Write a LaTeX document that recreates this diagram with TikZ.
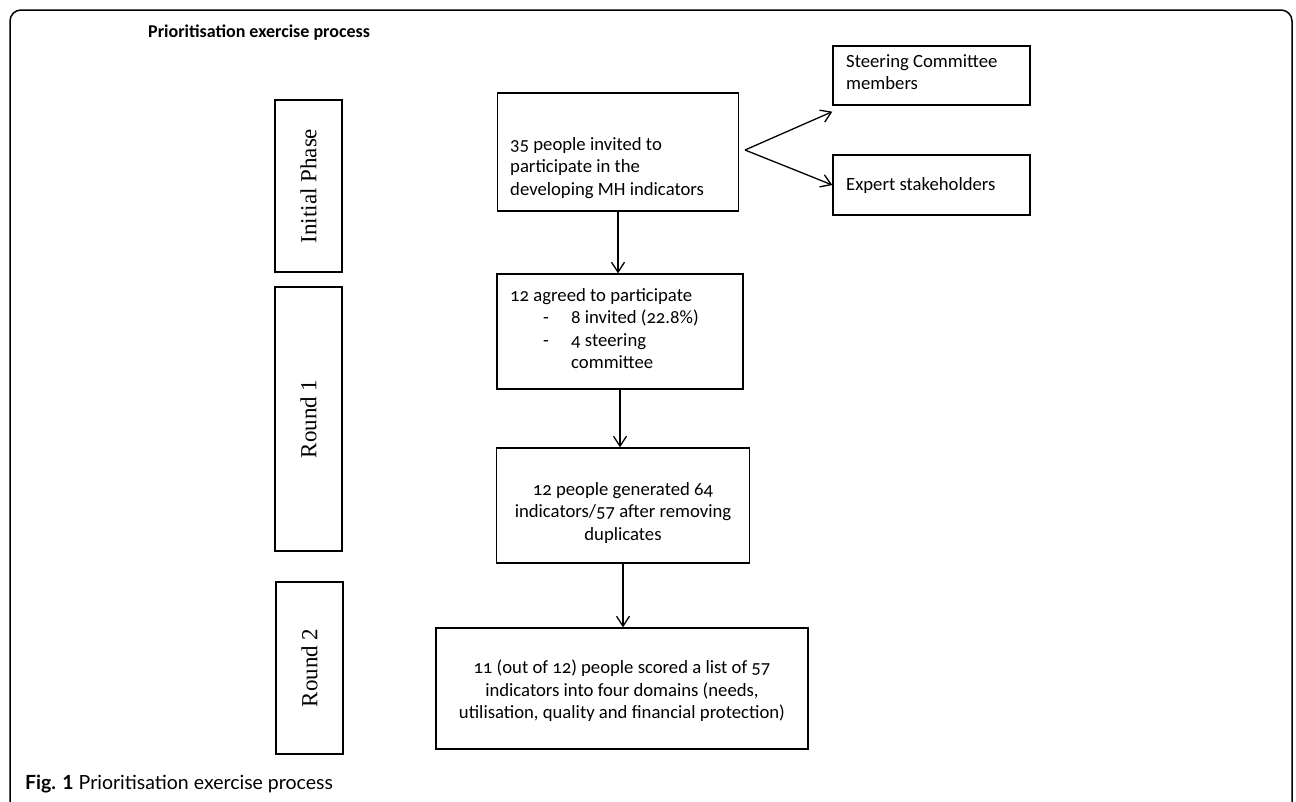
\documentclass[tikz,border=0pt]{standalone}
\usepackage{fontspec}
\setmainfont{Liberation Serif}
\newfontfamily\boxfont{Carlito}[Numbers=OldStyle]
\newfontfamily\capfont{Lato}
\usetikzlibrary{arrows.meta,calc}

\tikzset{
  stagebox/.style={draw, line width=1.3pt, rotate=90, minimum height=67pt, inner sep=0pt,
    font=\fontsize{23}{27}\selectfont},
  flowbox/.style={draw, line width=1.3pt, inner sep=0pt},
  flowtext/.style={font=\boxfont\fontsize{18.7}{22.5}\selectfont, inner sep=0pt},
  flowarrow/.style={line width=1.3pt, -{Straight Barb[length=10pt,width=13pt,line width=1.3pt]}},
}

\begin{document}
\begin{tikzpicture}[x=1pt,y=-1pt]
\clip (0,0) rectangle (1296,801);
% outer frame, open at the bottom
\draw[line width=1.5pt, rounded corners=11pt] (10,10) rectangle (1292,815);
\node[font=\boxfont\bfseries\fontsize{18}{22}\selectfont, anchor=base west, inner sep=0pt] (title) at (148,37) {Prioritisation exercise process};

% stage column
\node[stagebox, minimum width=172pt] (init) at (308.5,186) {Initial Phase};
\node[stagebox, minimum width=264pt] (round1) at (308.5,419) {Round 1};
\node[stagebox, minimum width=172pt] (round2) at (309.5,668) {Round 2};

% flow boxes
\node[flowbox, minimum width=241pt, minimum height=118pt] (invite) at (618,152) {};
\node[flowtext, anchor=north west, align=left] (invite-t) at (510,137) {35 people invited to\\participate in the\\developing MH indicators};

\node[flowbox, minimum width=246pt, minimum height=115pt] (agreed) at (620,331.5) {};
\node[flowtext, anchor=north west, align=left] (agreed-t) at (510,288) {12 agreed to participate\\
\hspace*{33pt}\makebox[28pt][l]{-}8 invited (22.8\%)\\
\hspace*{33pt}\makebox[28pt][l]{-}4 steering\\
\hspace*{61pt}committee};

\node[flowbox, minimum width=253pt, minimum height=115pt] (generated) at (623,505.5) {};
\node[flowtext, align=center] (generated-t) at (623,513) {12 people generated 64\\indicators/57 after removing\\duplicates};

\node[flowbox, minimum width=372pt, minimum height=121pt] (scored) at (622,688.5) {};
\node[flowtext, align=center] (scored-t) at (622,691) {11 (out of 12) people scored a list of 57\\indicators into four domains (needs,\\utilisation, quality and financial protection)};

% side boxes
\node[flowbox, minimum width=197pt, minimum height=59pt] (steer) at (931.5,75.5) {};
\node[flowtext, anchor=north west, align=left] (steer-t) at (846,54) {Steering Committee\\members};
\node[flowbox, minimum width=197pt, minimum height=60pt] (expert) at (931.5,185) {};
\node[flowtext, anchor=west] (expert-t) at (846,186) {Expert stakeholders};

% connectors
\coordinate (fork) at (745,150);
\draw[flowarrow] (fork) -- ($(steer.south west)+(0,6)$);
\draw[flowarrow] (fork) -- (expert.west);
\draw[flowarrow] (invite.south) -- (invite.south |- agreed.north);
\draw[flowarrow] (agreed.south) -- (agreed.south |- generated.north);
\draw[flowarrow] (generated.south) -- (generated.south |- scored.north);

% caption
\node[font=\capfont\fontsize{19.5}{24}\selectfont, anchor=base west, inner sep=0pt] (caption) at (25,789) {\textbf{Fig. 1} Prioritisation exercise process};
\end{tikzpicture}
\end{document}
